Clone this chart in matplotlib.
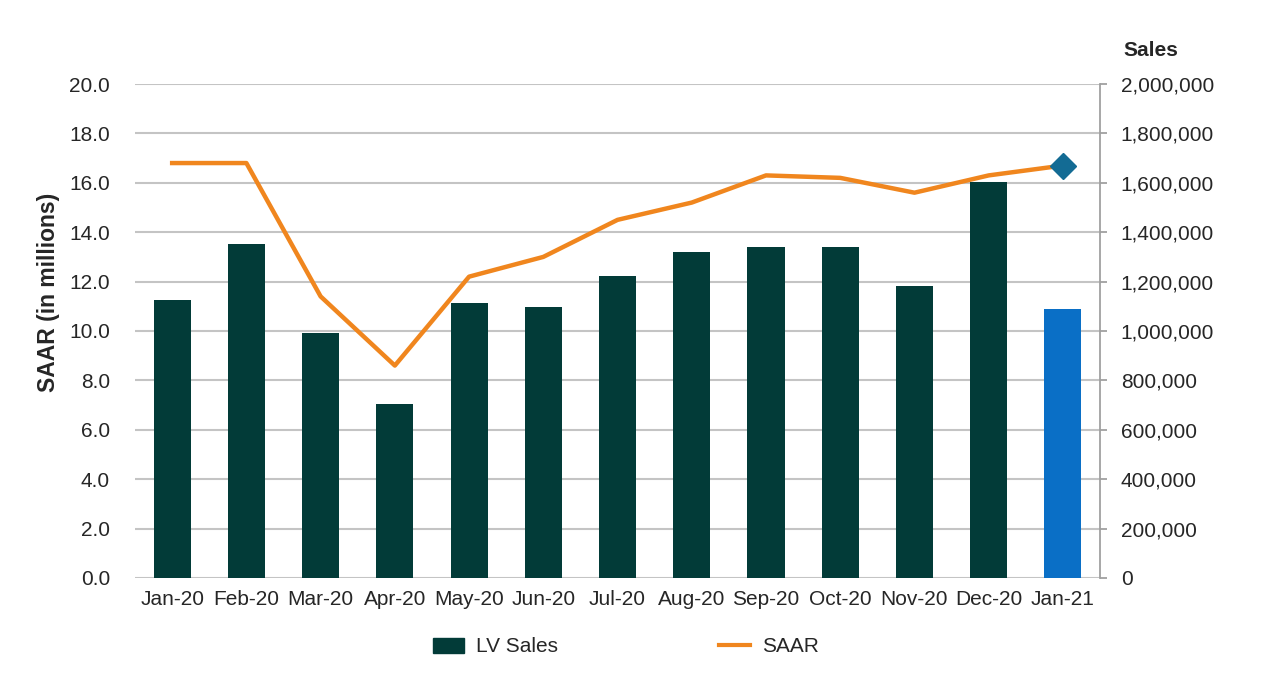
import numpy as np
import matplotlib.pyplot as plt
from matplotlib.ticker import FuncFormatter, MultipleLocator
from matplotlib.lines import Line2D
from matplotlib.patches import Patch

plt.rcParams['font.family'] = ['Liberation Sans', 'DejaVu Sans']

months = ['Jan-20', 'Feb-20', 'Mar-20', 'Apr-20', 'May-20', 'Jun-20', 'Jul-20',
          'Aug-20', 'Sep-20', 'Oct-20', 'Nov-20', 'Dec-20', 'Jan-21']
lv_sales = [1125000, 1351000, 990000, 706000, 1112000, 1098000, 1224000,
            1321000, 1341000, 1341000, 1183000, 1604000, 1090000]
saar = [16.8, 16.8, 11.4, 8.6, 12.2, 13.0, 14.5, 15.2, 16.3, 16.2, 15.6, 16.3, 16.7]

dark = '#023b38'
blue = '#0a6fc6'
orange = '#f0861e'
grid_c = '#c4c4c4'
txt = '#262626'

fig = plt.figure(figsize=(12.8, 6.87), dpi=100)
ax = fig.add_axes([0.1055, 0.1587, 0.7539, 0.719])
axr = ax.twinx()

x = np.arange(len(months))
colors = [dark] * (len(months) - 1) + [blue]

# bars on the right (sales) axis, line on the left (SAAR) axis
axr.bar(x, lv_sales, width=0.5, color=colors, zorder=2)
axr.set_ylim(0, 2000000)
axr.yaxis.set_major_locator(MultipleLocator(200000))
axr.yaxis.set_major_formatter(FuncFormatter(lambda v, p: f'{int(v):,}'))
axr.grid(axis='y', color=grid_c, linewidth=1.5, zorder=0)
axr.set_axisbelow(True)

ax.plot(x, saar, color=orange, linewidth=3.2, zorder=3)
ax.plot(x[-1], saar[-1], marker='D', color='#136b94', markersize=13, zorder=4)
ax.set_ylim(0, 20)
ax.yaxis.set_major_locator(MultipleLocator(2))
ax.yaxis.set_major_formatter(FuncFormatter(lambda v, p: f'{v:.1f}'))
ax.set_xlim(-0.5, len(months) - 0.5)
ax.set_xticks(x)
ax.set_xticklabels(months)
ax.set_zorder(axr.get_zorder() + 1)
ax.patch.set_visible(False)

for a in (ax, axr):
    for s in a.spines.values():
        s.set_visible(False)
axr.spines['right'].set_visible(True)
axr.spines['right'].set_color('#a0a0a0')
axr.spines['right'].set_linewidth(1.3)

ax.tick_params(axis='y', length=0, pad=18, labelsize=15, labelcolor=txt)
ax.tick_params(axis='x', length=0, pad=9, labelsize=15, labelcolor=txt)
axr.tick_params(axis='y', length=5, width=1.3, color='#a0a0a0', pad=10,
                labelsize=15, labelcolor=txt)

ax.set_ylabel('SAAR (in millions)', fontsize=16.5, fontweight='bold', color=txt)
ax.yaxis.set_label_coords(-0.078, 0.578)
fig.text(1151 / 1280, 1 - 50 / 687, 'Sales', fontsize=15, fontweight='bold',
         color=txt, ha='center', va='center')

handles = [Patch(color=dark), Line2D([0], [0], color=orange, linewidth=3)]
fig.legend(handles, ['LV Sales', 'SAAR'], loc='center',
           bbox_to_anchor=(0.489, 1 - 647 / 687), ncol=2, frameon=False,
           fontsize=15, handlelength=1.5, handletextpad=0.6, columnspacing=7.7,
           labelcolor=txt)

fig.savefig('out.png', dpi=100)
